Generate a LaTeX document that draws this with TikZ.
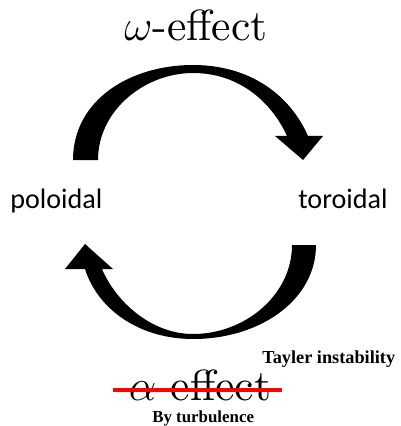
\RequirePackage{fix-cm}
\documentclass[tikz,border=0pt]{standalone}
\usepackage{fontspec}
\newfontfamily\sidefont{Carlito}
\newfontfamily\notefont{Liberation Serif}
\newfontfamily\efffont{lmroman10-regular}[Extension=.otf]
\usepackage{tikz}
\definecolor{strikered}{RGB}{255,0,0}

\begin{document}
\begin{tikzpicture}[x=0.025cm, y=-0.025cm,
        effect/.style={anchor=base, inner sep=0pt, font=\efffont\fontsize{31}{36}\selectfont},
        side/.style={anchor=base west, inner sep=0pt, font=\sidefont\fontsize{20}{24}\selectfont},
        note/.style={anchor=base west, inner sep=0pt, font=\notefont\bfseries\fontsize{#1}{15}\selectfont},
        swoosh/.style={fill=black}]
        \useasboundingbox (0,0) rectangle (400,426);
        % upper arrow
        \fill[swoosh] (73,160) .. controls (73,100) and (130,65) .. (193,65)
                .. controls (250,65) and (290,95) .. (308,136) -- (323,136) -- (303,160) -- (275,136) -- (287,136)
                .. controls (272,103) and (240,73) .. (193,73)
                .. controls (145,73) and (98,110) .. (98,160) -- cycle;
        % lower arrow
        \fill[swoosh] (316,245) .. controls (316,300) and (260,339) .. (193,339)
                .. controls (140,339) and (98,310) .. (85,269) -- (65,269) -- (85,244) -- (113,269) -- (102,269)
                .. controls (115,300) and (150,334) .. (193,334)
                .. controls (245,334) and (292,295) .. (292,245) -- cycle;
        % labels
        \node[effect] (omega) at (196,41) {$\omega$-effect};
        \node[side] (pol) at (10,208) {poloidal};
        \node[side] (tor) at (298,208) {toroidal};
        \node[note=13] (tayler) at (262,363) {Tayler instability};
        \node[effect] (alpha) at (200,400) {$\alpha$-effect};
        % strike through
        \coordinate (s1) at (113,390);
        \coordinate (s2) at (282,390);
        \draw[strikered, line width=3.5pt] (s1) -- (s2);
        \node[note=12] (turb) at (152,422) {By turbulence};
\end{tikzpicture}
\end{document}
